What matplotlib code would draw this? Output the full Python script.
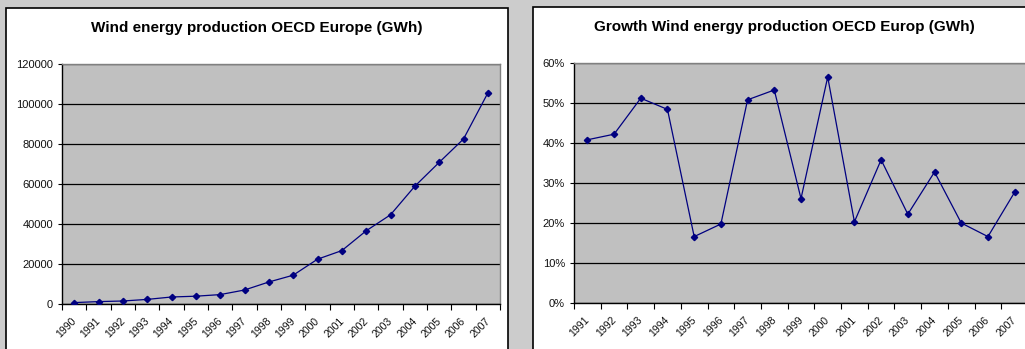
import matplotlib
matplotlib.use("Agg")
import matplotlib.pyplot as plt
from matplotlib.patches import Rectangle
from matplotlib.ticker import FixedLocator, FuncFormatter
import numpy as np

plt.rcParams['font.family'] = ['Liberation Sans', 'DejaVu Sans']

years_prod = [str(y) for y in range(1990, 2008)]
production = [700, 1200, 1500, 2300, 3500, 3900, 4700, 7000, 11000, 14400,
              22400, 26700, 36600, 44600, 58900, 70800, 82500, 105500]

years_growth = [str(y) for y in range(1991, 2008)]
growth = [40.8, 42.2, 51.2, 48.4, 16.6, 19.75, 50.8, 53.25, 26.1, 56.5,
          20.3, 35.8, 22.2, 32.75, 20.0, 16.6, 27.7]

W, H = 1025, 349
fig = plt.figure(figsize=(W / 100, H / 100), dpi=100)
fig.patch.set_facecolor('#cccccc')


def px(x0, y0, x1, y1):
    # pixel box -> figure fraction [left, bottom, width, height]
    return [x0 / W, 1 - y1 / H, (x1 - x0) / W, (y1 - y0) / H]


def panel(x0, y0, x1, y1):
    l, b, w, h = px(x0, y0, x1, y1)
    fig.patches.append(Rectangle((l, b), w, h, transform=fig.transFigure,
                                 facecolor='white', edgecolor='black', lw=1.2,
                                 zorder=-5))


def chart(ax, cats, vals, ymax, ystep, fmt):
    n = len(cats)
    ax.set_facecolor('#c0c0c0')
    x = np.arange(n) + 0.5
    ax.plot(x, vals, color='#000080', lw=0.9, marker='D', ms=3.2,
            mfc='#000080', mec='#000080', zorder=3)
    ax.set_xlim(0, n)
    ax.set_ylim(0, ymax)
    ax.set_yticks(np.arange(0, ymax + ystep / 2, ystep))
    ax.yaxis.set_major_formatter(FuncFormatter(fmt))
    ax.grid(axis='y', color='black', lw=0.9)
    ax.set_axisbelow(True)
    ax.xaxis.set_major_locator(FixedLocator(np.arange(n + 1)))
    ax.xaxis.set_major_formatter(FuncFormatter(lambda v, p: ''))
    ax.xaxis.set_minor_locator(FixedLocator(x - 0.12))
    ax.set_xticklabels(cats, minor=True)
    ax.tick_params(axis='x', which='minor', length=0, pad=8.5, labelsize=7.6,
                   labelcolor='#111111')
    for lab in ax.get_xticklabels(minor=True):
        lab.set_rotation(45)
        lab.set_ha('right')
        lab.set_va('top')
        lab.set_rotation_mode('anchor')
    ax.tick_params(axis='x', which='major', length=4, width=0.8, direction='out')
    ax.tick_params(axis='y', length=3, width=0.8, direction='out', labelsize=8,
                   pad=3.5, labelcolor='#111111')
    for s in ['left', 'bottom']:
        ax.spines[s].set_color('black')
        ax.spines[s].set_linewidth(1.0)
    for s in ['top', 'right']:
        ax.spines[s].set_color('#808080')
        ax.spines[s].set_linewidth(1.0)


panel(6, 8, 508, 360)
panel(533, 7, 1040, 360)

ax1 = fig.add_axes(px(62, 64, 500, 304))
chart(ax1, years_prod, production, 120000, 20000, lambda v, p: '%d' % v)
fig.text(257 / W, 1 - 28 / H, 'Wind energy production OECD Europe (GWh)',
         ha='center', va='center', fontsize=11, fontweight='bold')

ax2 = fig.add_axes(px(574, 63, 1028, 303))
chart(ax2, years_growth, growth, 60, 10, lambda v, p: '%d%%' % v)
fig.text(784 / W, 1 - 27 / H, 'Growth Wind energy production OECD Europ (GWh)',
         ha='center', va='center', fontsize=11, fontweight='bold')

fig.savefig('out.png', dpi=100, facecolor=fig.get_facecolor())
